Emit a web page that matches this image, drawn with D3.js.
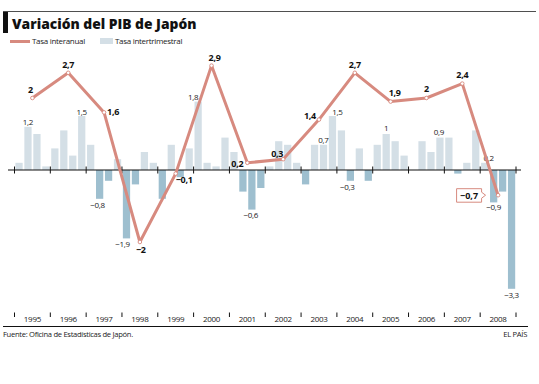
<!DOCTYPE html>
<html>
<head>
<meta charset="utf-8">
<script src="https://cdn.jsdelivr.net/npm/d3@7"></script>
<style>
  body { margin: 0; background: #fff; }
  svg { display: block; font-family: "Open Sans", "Liberation Sans", sans-serif; }
</style>
</head>
<body>
<svg width="539" height="384"></svg>
<script>
// años y tasa interanual (línea)
const years = [1995, 1996, 1997, 1998, 1999, 2000, 2001, 2002, 2003, 2004, 2005, 2006, 2007, 2008];
const annual = [2, 2.7, 1.6, -2, -0.1, 2.9, 0.2, 0.3, 1.4, 2.7, 1.9, 2, 2.4, -0.7];

// tasa intertrimestral, 4 trimestres por año
const quarterly = [
  0.2, 1.2, 1.0, 0.1,
  0.6, 1.1, 0.4, 1.5,
  0.7, -0.8, -0.3, 0.3,
  -1.9, -0.4, 0.5, 0.2,
  -0.8, 0.7, -0.2, 0.6,
  1.9, 0.2, 0.1, 0.9,
  0.5, -0.6, -1.1, -0.5,
  0.1, 0.8, 0.7, 0.2,
  -0.4, 0.7, 0.7, 1.5,
  1.1, -0.3, 0.6, -0.3,
  0.7, 1.0, 0.8, 0.4,
  0, 0.8, 0.5, 0.9,
  0.9, -0.1, 0.2, 1.1,
  0.2, -0.9, -0.6, -3.3
];

// etiquetas de barras: índice del trimestre y texto
const barLabelIdx = [1, 7, 9, 12, 20, 26, 34, 35, 37, 41, 47, 52, 53, 55];
const barLabelText = ["1,2", "1,5", "−0,8", "−1,9", "1,8", "−0,6", "0,7", "1,5", "−0,3", "1", "0,9", "0,2", "−0,9", "−3,3"];
const annualText = ["2", "2,7", "1,6", "−2", "−0,1", "2,9", "0,2", "0,3", "1,4", "2,7", "1,9", "2", "2,4", "−0,7"];

const svg = d3.select("svg");

const lineColor = "#d78a7f";
const posColor = "#d4dfe6";
const negColor = "#9ebfcf";

const x = d3.scaleLinear().domain([1995, 2009]).range([14.5, 516]);
const y = d3.scaleLinear().domain([-3.3, 2.9]).range([170 + 3.3 * 36, 170 - 2.9 * 36]);
const qw = (x(1996) - x(1995)) / 4;

// cabecera
svg.append("line").attr("x1", 3).attr("x2", 536).attr("y1", 11.5).attr("y2", 11.5)
  .attr("stroke", "#222").attr("stroke-width", 0.8);
svg.append("rect").attr("x", 3).attr("y", 12).attr("width", 5).attr("height", 21).attr("fill", "#111");
svg.append("text").attr("x", 12).attr("y", 28.5)
  .attr("font-size", 13.8).attr("font-weight", 800).attr("fill", "#111")
  .text("Variación del PIB de Japón");

// leyenda
svg.append("line").attr("x1", 10).attr("x2", 30).attr("y1", 41.5).attr("y2", 41.5)
  .attr("stroke", lineColor).attr("stroke-width", 3);
svg.append("text").attr("x", 32).attr("y", 44).attr("font-size", 8).attr("fill", "#222")
  .attr("letter-spacing", -0.3).text("Tasa interanual");
svg.append("rect").attr("x", 100).attr("y", 38).attr("width", 13).attr("height", 6).attr("fill", posColor);
svg.append("text").attr("x", 115).attr("y", 44).attr("font-size", 8).attr("fill", "#222")
  .attr("letter-spacing", -0.3).text("Tasa intertrimestral");

// barras
const qData = quarterly.map((v, i) => ({ v, t: years[0] + i / 4 }));
svg.append("g").selectAll("rect").data(qData).join("rect")
  .attr("x", d => x(d.t) + 0.9)
  .attr("width", qw - 1.7)
  .attr("y", d => y(Math.max(0, d.v)))
  .attr("height", d => Math.abs(y(d.v) - y(0)))
  .attr("fill", d => d.v < 0 ? negColor : posColor);

// eje cero
const zero = svg.append("g");
zero.append("line").attr("x1", 8).attr("x2", 521).attr("y1", y(0)).attr("y2", y(0))
  .attr("stroke", "#111").attr("stroke-width", 1.2);
zero.selectAll("line.tk").data(years.concat([2009])).join("line").attr("class", "tk")
  .attr("x1", d => x(d)).attr("x2", d => x(d))
  .attr("y1", y(0) - 3.5).attr("y2", y(0) + 3.5)
  .attr("stroke", "#111").attr("stroke-width", 1);

// etiquetas de barras
const barDx = [0, 0, -2, -4, -5, -1, 0, 5, -3, 0, -1, 4, 0, 0];
const barDy = [-2, -1.5, 9, 9, -2, 8, -2, -1.5, 9, -3, -3, -2, 8, 9];
svg.append("g").selectAll("text").data(barLabelIdx).join("text")
  .attr("x", (d, i) => x(qData[d].t) + qw / 2 + barDx[i])
  .attr("y", (d, i) => y(quarterly[d]) + barDy[i])
  .attr("text-anchor", "middle").attr("font-size", 8).attr("fill", "#222")
  .attr("letter-spacing", -0.3)
  .text((d, i) => barLabelText[i]);

// línea interanual
const pts = years.map((yr, i) => ({ t: yr + 0.5, v: annual[i] }));
svg.append("path").datum(pts)
  .attr("fill", "none").attr("stroke", lineColor).attr("stroke-width", 3)
  .attr("stroke-linejoin", "round")
  .attr("d", d3.line().x(d => x(d.t)).y(d => y(d.v)));
svg.append("g").selectAll("circle").data(pts).join("circle")
  .attr("cx", d => x(d.t)).attr("cy", d => y(d.v)).attr("r", 1.8)
  .attr("fill", "#fff").attr("stroke", lineColor).attr("stroke-width", 0.9);

// etiquetas de la línea
const lblDx = [-2, 0, 3, 1, 0, 3, -4, -6, -3, 0, 4, 0, 0, 0];
const lblDy = [-5, -4.5, 2.5, 11, 9, -4.5, 4.5, -2.5, -1, -5, -5.5, -6, -6, 0];
const lblAnchor = ["middle", "middle", "start", "middle", "start", "middle", "end", "middle", "end", "middle", "middle", "middle", "middle", "middle"];
const last = pts.length - 1;
svg.append("g").selectAll("text").data(pts.slice(0, last)).join("text")
  .attr("x", (d, i) => x(d.t) + lblDx[i])
  .attr("y", (d, i) => y(d.v) + lblDy[i])
  .attr("text-anchor", (d, i) => lblAnchor[i])
  .attr("font-size", 9).attr("font-weight", 700).attr("fill", "#111")
  .attr("letter-spacing", -0.3)
  .text((d, i) => annualText[i]);

// recuadro del último dato
const px = x(pts[last].t), py = y(pts[last].v);
const bx0 = px - 41.5, bx1 = px - 16.5, by0 = py - 6.5, by1 = py + 7;
svg.append("path")
  .attr("d", `M${bx0},${by0}H${bx1}V${py - 3}L${bx1 + 4},${py}L${bx1},${py + 3}V${by1}H${bx0}Z`)
  .attr("fill", "#fff").attr("stroke", lineColor).attr("stroke-width", 1);
svg.append("text").attr("x", (bx0 + bx1) / 2).attr("y", py + 3.5)
  .attr("text-anchor", "middle").attr("font-size", 9).attr("font-weight", 700).attr("fill", "#111")
  .text(annualText[last]);

// eje inferior de años
const bottom = svg.append("g");
bottom.selectAll("line").data(years.concat([2009])).join("line")
  .attr("x1", d => x(d)).attr("x2", d => x(d)).attr("y1", 312.5).attr("y2", 317)
  .attr("stroke", "#111").attr("stroke-width", 1);
bottom.selectAll("text").data(years).join("text")
  .attr("x", d => x(d + 0.5)).attr("y", 322)
  .attr("text-anchor", "middle").attr("font-size", 8).attr("fill", "#222")
  .attr("letter-spacing", -0.3)
  .text(d => d);
svg.append("line").attr("x1", 3).attr("x2", 528).attr("y1", 326.5).attr("y2", 326.5)
  .attr("stroke", "#111").attr("stroke-width", 1);

// pie
svg.append("text").attr("x", 3).attr("y", 337).attr("font-size", 7.6).attr("fill", "#222")
  .attr("letter-spacing", -0.3).text("Fuente: Oficina de Estadísticas de Japón.");
svg.append("text").attr("x", 527).attr("y", 337).attr("text-anchor", "end")
  .attr("font-size", 7.6).attr("fill", "#222").attr("letter-spacing", -0.3).text("EL PAÍS");
</script>
</body>
</html>
